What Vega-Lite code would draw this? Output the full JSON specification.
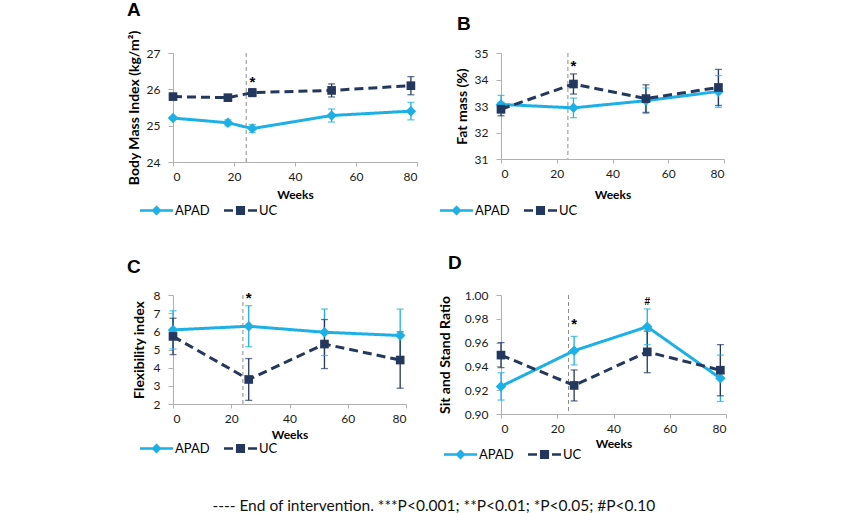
{
  "$schema": "https://vega.github.io/schema/vega-lite/v6.json",
  "autosize": "none",
  "padding": {"left": 173, "top": 53, "right": 677, "bottom": 460},
  "background": "white",
  "datasets": {
    "A": [
      {"week": 0, "group": "APAD", "value": 25.21, "lo": 25.17, "hi": 25.25},
      {"week": 18, "group": "APAD", "value": 25.08, "lo": 25.0, "hi": 25.16},
      {"week": 26, "group": "APAD", "value": 24.92, "lo": 24.81, "hi": 25.03},
      {"week": 52, "group": "APAD", "value": 25.28, "lo": 25.1, "hi": 25.46},
      {"week": 78, "group": "APAD", "value": 25.4, "lo": 25.16, "hi": 25.64},
      {"week": 0, "group": "UC", "value": 25.8, "lo": 25.76, "hi": 25.84},
      {"week": 18, "group": "UC", "value": 25.77, "lo": 25.69, "hi": 25.85},
      {"week": 26, "group": "UC", "value": 25.91, "lo": 25.8, "hi": 26.02},
      {"week": 52, "group": "UC", "value": 25.97, "lo": 25.79, "hi": 26.15},
      {"week": 78, "group": "UC", "value": 26.1, "lo": 25.85, "hi": 26.35}
    ],
    "A_ann": [{"week": 26, "y": 26.2, "label": "*"}],
    "B": [
      {"week": 0, "group": "APAD", "value": 33.06, "lo": 32.72, "hi": 33.4},
      {"week": 26, "group": "APAD", "value": 32.93, "lo": 32.56, "hi": 33.3},
      {"week": 52, "group": "APAD", "value": 33.2, "lo": 32.72, "hi": 33.68},
      {"week": 78, "group": "APAD", "value": 33.55, "lo": 32.95, "hi": 34.15},
      {"week": 0, "group": "UC", "value": 32.88, "lo": 32.63, "hi": 33.13},
      {"week": 26, "group": "UC", "value": 33.83, "lo": 33.45, "hi": 34.21},
      {"week": 52, "group": "UC", "value": 33.28, "lo": 32.76, "hi": 33.8},
      {"week": 78, "group": "UC", "value": 33.7, "lo": 33.02, "hi": 34.38}
    ],
    "B_ann": [{"week": 26, "y": 34.5, "label": "*"}],
    "C": [
      {"week": 0, "group": "APAD", "value": 6.08, "lo": 5.03, "hi": 7.13},
      {"week": 26, "group": "APAD", "value": 6.28, "lo": 5.15, "hi": 7.41},
      {"week": 52, "group": "APAD", "value": 5.95, "lo": 4.67, "hi": 7.23},
      {"week": 78, "group": "APAD", "value": 5.77, "lo": 4.32, "hi": 7.22},
      {"week": 0, "group": "UC", "value": 5.72, "lo": 4.72, "hi": 6.72},
      {"week": 26, "group": "UC", "value": 3.35, "lo": 2.2, "hi": 4.5},
      {"week": 52, "group": "UC", "value": 5.3, "lo": 3.95, "hi": 6.65},
      {"week": 78, "group": "UC", "value": 4.42, "lo": 2.87, "hi": 5.97}
    ],
    "C_ann": [{"week": 26, "y": 7.85, "label": "*"}],
    "D": [
      {"week": 0, "group": "APAD", "value": 0.9232, "lo": 0.9117, "hi": 0.9347},
      {"week": 26, "group": "APAD", "value": 0.9532, "lo": 0.9412, "hi": 0.9652},
      {"week": 52, "group": "APAD", "value": 0.9733, "lo": 0.9583, "hi": 0.9883},
      {"week": 78, "group": "APAD", "value": 0.93, "lo": 0.9105, "hi": 0.9495},
      {"week": 0, "group": "UC", "value": 0.9495, "lo": 0.939, "hi": 0.96},
      {"week": 26, "group": "UC", "value": 0.924, "lo": 0.911, "hi": 0.937},
      {"week": 52, "group": "UC", "value": 0.9522, "lo": 0.9347, "hi": 0.9697},
      {"week": 78, "group": "UC", "value": 0.9368, "lo": 0.9153, "hi": 0.9583}
    ],
    "D_ann": [{"week": 26, "y": 0.9757, "label": "*"}, {"week": 52, "y": 0.9944, "label": "#"}],
    "end": [{"end": 24}]
  },
  "title": {
    "text": "---- End of intervention. ***P<0.001; **P<0.01; *P<0.05; #P<0.10",
    "orient": "bottom",
    "anchor": "middle",
    "frame": "bounds",
    "offset": 36,
    "dx": 7,
    "font": "Lato",
    "fontSize": 15.5,
    "fontWeight": "normal",
    "color": "#111111"
  },
  "columns": 2,
  "align": "none",
  "bounds": "flush",
  "spacing": {"row": 133, "column": 84},
  "resolve": {
    "scale": {"x": "independent", "y": "independent", "color": "independent"},
    "legend": {"color": "independent"}
  },
  "concat": [
    {
      "width": 244, "height": 109,
      "title": {"text": "A", "anchor": "start", "frame": "group", "dx": -46, "offset": -5, "baseline": "alphabetic", "font": "Liberation Sans", "fontSize": 19, "fontWeight": "bold", "color": "#000000"},
      "data": {"name": "A"},
      "layer": [
        {"data": {"name": "end"}, "mark": {"type": "rule", "color": "#8c8c8c", "strokeDash": [4, 3], "strokeWidth": 1}, "encoding": {"x": {"field": "end", "type": "quantitative", "scale": {"domain": [0, 80], "nice": false}}}},
        {"mark": {"type": "rule", "strokeWidth": 1.3}, "encoding": {"x": {"field": "week", "type": "quantitative", "scale": {"domain": [0, 80], "nice": false}}, "y": {"field": "lo", "type": "quantitative", "scale": {"domain": [24, 27], "nice": false, "zero": false}}, "y2": {"field": "hi"}, "color": {"field": "group", "type": "nominal", "scale": {"domain": ["APAD", "UC"], "range": ["#1CB0E6", "#24375F"]}}}},
        {"mark": {"type": "tick", "orient": "horizontal", "size": 7, "thickness": 1.3}, "encoding": {"x": {"field": "week", "type": "quantitative", "scale": {"domain": [0, 80], "nice": false}}, "y": {"field": "lo", "type": "quantitative", "scale": {"domain": [24, 27], "nice": false, "zero": false}}, "color": {"field": "group", "type": "nominal", "scale": {"domain": ["APAD", "UC"], "range": ["#1CB0E6", "#24375F"]}}}},
        {"mark": {"type": "tick", "orient": "horizontal", "size": 7, "thickness": 1.3}, "encoding": {"x": {"field": "week", "type": "quantitative", "scale": {"domain": [0, 80], "nice": false}}, "y": {"field": "hi", "type": "quantitative", "scale": {"domain": [24, 27], "nice": false, "zero": false}}, "color": {"field": "group", "type": "nominal", "scale": {"domain": ["APAD", "UC"], "range": ["#1CB0E6", "#24375F"]}}}},
        {"mark": {"type": "line", "strokeWidth": 3}, "encoding": {
          "x": {"field": "week", "type": "quantitative", "scale": {"domain": [0, 80], "nice": false}, "axis": {"values": [0, 20, 40, 60, 80], "tickCount": 20, "format": "d", "title": "Weeks", "titlePadding": 7, "labelOverlap": false}},
          "y": {"field": "value", "type": "quantitative", "scale": {"domain": [24, 27], "nice": false, "zero": false}, "axis": {"values": [24, 25, 26, 27], "tickCount": 20, "format": "d", "title": "Body Mass Index (kg/m²)", "titlePadding": 5, "labelOverlap": false}},
          "color": {"field": "group", "type": "nominal", "scale": {"domain": ["APAD", "UC"], "range": ["#1CB0E6", "#24375F"]}, "legend": {"title": null, "orient": "none", "legendX": -33, "legendY": 151, "direction": "horizontal", "symbolSize": 25, "symbolOffset": 10, "labelOffset": 12, "columnPadding": 8, "labelFont": "Lato", "labelFontSize": 13, "labelColor": "#000000", "encode": {"symbols": {"update": {"shape": {"signal": "datum.value === 'APAD' ? 'M-6.6,0H6.6M0,-1.3L1.3,0L0,1.3L-1.3,0Z' : 'M-6.6,0H-3M3,0H6.6M-1.3,-1.3H1.3V1.3H-1.3Z'"}, "fill": {"signal": "datum.value === 'APAD' ? '#1CB0E6' : '#24375F'"}, "stroke": {"signal": "datum.value === 'APAD' ? '#1CB0E6' : '#24375F'"}, "strokeWidth": {"value": 2.6}, "size": {"value": 25}, "opacity": {"value": 1}, "fillOpacity": {"value": 1}, "strokeOpacity": {"value": 1}}}}}},
          "strokeDash": {"condition": {"test": "datum.group === 'UC'", "value": [9, 5]}, "value": [1, 0]}}},
        {"mark": {"type": "point", "filled": true, "opacity": 1}, "encoding": {"x": {"field": "week", "type": "quantitative", "scale": {"domain": [0, 80], "nice": false}}, "y": {"field": "value", "type": "quantitative", "scale": {"domain": [24, 27], "nice": false, "zero": false}}, "color": {"field": "group", "type": "nominal", "scale": {"domain": ["APAD", "UC"], "range": ["#1CB0E6", "#24375F"]}}, "shape": {"condition": {"test": "datum.group === 'UC'", "value": "square"}, "value": "diamond"}, "size": {"condition": {"test": "datum.group === 'UC'", "value": 75}, "value": 110}}},
        {"data": {"name": "A_ann"}, "mark": {"type": "text", "fontWeight": "bold", "baseline": "middle", "color": "#000000", "font": "Liberation Sans"}, "encoding": {"x": {"field": "week", "type": "quantitative", "scale": {"domain": [0, 80], "nice": false}}, "y": {"field": "y", "type": "quantitative", "scale": {"domain": [24, 27], "nice": false, "zero": false}}, "text": {"field": "label"}, "size": {"condition": {"test": "datum.label === '#'", "value": 10}, "value": 15}}}
      ]
    },
    {
      "width": 223, "height": 106,
      "title": {"text": "B", "anchor": "start", "frame": "group", "dx": -44, "offset": -2, "baseline": "alphabetic", "font": "Liberation Sans", "fontSize": 19, "fontWeight": "bold", "color": "#000000"},
      "data": {"name": "B"},
      "layer": [
        {"data": {"name": "end"}, "mark": {"type": "rule", "color": "#8c8c8c", "strokeDash": [4, 3], "strokeWidth": 1}, "encoding": {"x": {"field": "end", "type": "quantitative", "scale": {"domain": [0, 80], "nice": false}}}},
        {"mark": {"type": "rule", "strokeWidth": 1.3}, "encoding": {"x": {"field": "week", "type": "quantitative", "scale": {"domain": [0, 80], "nice": false}}, "y": {"field": "lo", "type": "quantitative", "scale": {"domain": [31, 35], "nice": false, "zero": false}}, "y2": {"field": "hi"}, "color": {"field": "group", "type": "nominal", "scale": {"domain": ["APAD", "UC"], "range": ["#1CB0E6", "#24375F"]}}}},
        {"mark": {"type": "tick", "orient": "horizontal", "size": 7, "thickness": 1.3}, "encoding": {"x": {"field": "week", "type": "quantitative", "scale": {"domain": [0, 80], "nice": false}}, "y": {"field": "lo", "type": "quantitative", "scale": {"domain": [31, 35], "nice": false, "zero": false}}, "color": {"field": "group", "type": "nominal", "scale": {"domain": ["APAD", "UC"], "range": ["#1CB0E6", "#24375F"]}}}},
        {"mark": {"type": "tick", "orient": "horizontal", "size": 7, "thickness": 1.3}, "encoding": {"x": {"field": "week", "type": "quantitative", "scale": {"domain": [0, 80], "nice": false}}, "y": {"field": "hi", "type": "quantitative", "scale": {"domain": [31, 35], "nice": false, "zero": false}}, "color": {"field": "group", "type": "nominal", "scale": {"domain": ["APAD", "UC"], "range": ["#1CB0E6", "#24375F"]}}}},
        {"mark": {"type": "line", "strokeWidth": 3}, "encoding": {
          "x": {"field": "week", "type": "quantitative", "scale": {"domain": [0, 80], "nice": false}, "axis": {"values": [0, 20, 40, 60, 80], "tickCount": 20, "format": "d", "title": "Weeks", "titlePadding": 10, "labelOverlap": false}},
          "y": {"field": "value", "type": "quantitative", "scale": {"domain": [31, 35], "nice": false, "zero": false}, "axis": {"values": [31, 32, 33, 34, 35], "tickCount": 20, "format": "d", "title": "Fat mass (%)", "titlePadding": 5, "labelOverlap": false}},
          "color": {"field": "group", "type": "nominal", "scale": {"domain": ["APAD", "UC"], "range": ["#1CB0E6", "#24375F"]}, "legend": {"title": null, "orient": "none", "legendX": -61, "legendY": 151, "direction": "horizontal", "symbolSize": 25, "symbolOffset": 10, "labelOffset": 12, "columnPadding": 8, "labelFont": "Lato", "labelFontSize": 13, "labelColor": "#000000", "encode": {"symbols": {"update": {"shape": {"signal": "datum.value === 'APAD' ? 'M-6.6,0H6.6M0,-1.3L1.3,0L0,1.3L-1.3,0Z' : 'M-6.6,0H-3M3,0H6.6M-1.3,-1.3H1.3V1.3H-1.3Z'"}, "fill": {"signal": "datum.value === 'APAD' ? '#1CB0E6' : '#24375F'"}, "stroke": {"signal": "datum.value === 'APAD' ? '#1CB0E6' : '#24375F'"}, "strokeWidth": {"value": 2.6}, "size": {"value": 25}, "opacity": {"value": 1}, "fillOpacity": {"value": 1}, "strokeOpacity": {"value": 1}}}}}},
          "strokeDash": {"condition": {"test": "datum.group === 'UC'", "value": [9, 5]}, "value": [1, 0]}}},
        {"mark": {"type": "point", "filled": true, "opacity": 1}, "encoding": {"x": {"field": "week", "type": "quantitative", "scale": {"domain": [0, 80], "nice": false}}, "y": {"field": "value", "type": "quantitative", "scale": {"domain": [31, 35], "nice": false, "zero": false}}, "color": {"field": "group", "type": "nominal", "scale": {"domain": ["APAD", "UC"], "range": ["#1CB0E6", "#24375F"]}}, "shape": {"condition": {"test": "datum.group === 'UC'", "value": "square"}, "value": "diamond"}, "size": {"condition": {"test": "datum.group === 'UC'", "value": 75}, "value": 110}}},
        {"data": {"name": "B_ann"}, "mark": {"type": "text", "fontWeight": "bold", "baseline": "middle", "color": "#000000", "font": "Liberation Sans"}, "encoding": {"x": {"field": "week", "type": "quantitative", "scale": {"domain": [0, 80], "nice": false}}, "y": {"field": "y", "type": "quantitative", "scale": {"domain": [31, 35], "nice": false, "zero": false}}, "text": {"field": "label"}, "size": {"condition": {"test": "datum.label === '#'", "value": 10}, "value": 15}}}
      ]
    },
    {
      "width": 233, "height": 109,
      "title": {"text": "C", "anchor": "start", "frame": "group", "dx": -46, "offset": -3, "baseline": "alphabetic", "font": "Liberation Sans", "fontSize": 19, "fontWeight": "bold", "color": "#000000"},
      "data": {"name": "C"},
      "layer": [
        {"data": {"name": "end"}, "mark": {"type": "rule", "color": "#8c8c8c", "strokeDash": [4, 3], "strokeWidth": 1}, "encoding": {"x": {"field": "end", "type": "quantitative", "scale": {"domain": [0, 80], "nice": false}}}},
        {"mark": {"type": "rule", "strokeWidth": 1.3}, "encoding": {"x": {"field": "week", "type": "quantitative", "scale": {"domain": [0, 80], "nice": false}}, "y": {"field": "lo", "type": "quantitative", "scale": {"domain": [2, 8], "nice": false, "zero": false}}, "y2": {"field": "hi"}, "color": {"field": "group", "type": "nominal", "scale": {"domain": ["APAD", "UC"], "range": ["#1CB0E6", "#24375F"]}}}},
        {"mark": {"type": "tick", "orient": "horizontal", "size": 7, "thickness": 1.3}, "encoding": {"x": {"field": "week", "type": "quantitative", "scale": {"domain": [0, 80], "nice": false}}, "y": {"field": "lo", "type": "quantitative", "scale": {"domain": [2, 8], "nice": false, "zero": false}}, "color": {"field": "group", "type": "nominal", "scale": {"domain": ["APAD", "UC"], "range": ["#1CB0E6", "#24375F"]}}}},
        {"mark": {"type": "tick", "orient": "horizontal", "size": 7, "thickness": 1.3}, "encoding": {"x": {"field": "week", "type": "quantitative", "scale": {"domain": [0, 80], "nice": false}}, "y": {"field": "hi", "type": "quantitative", "scale": {"domain": [2, 8], "nice": false, "zero": false}}, "color": {"field": "group", "type": "nominal", "scale": {"domain": ["APAD", "UC"], "range": ["#1CB0E6", "#24375F"]}}}},
        {"mark": {"type": "line", "strokeWidth": 3}, "encoding": {
          "x": {"field": "week", "type": "quantitative", "scale": {"domain": [0, 80], "nice": false}, "axis": {"values": [0, 20, 40, 60, 80], "tickCount": 20, "format": "d", "title": "Weeks", "titlePadding": 5, "labelOverlap": false}},
          "y": {"field": "value", "type": "quantitative", "scale": {"domain": [2, 8], "nice": false, "zero": false}, "axis": {"values": [2, 3, 4, 5, 6, 7, 8], "tickCount": 20, "format": "d", "title": "Flexibility index", "titlePadding": 7, "labelOverlap": false}},
          "color": {"field": "group", "type": "nominal", "scale": {"domain": ["APAD", "UC"], "range": ["#1CB0E6", "#24375F"]}, "legend": {"title": null, "orient": "none", "legendX": -33, "legendY": 147, "direction": "horizontal", "symbolSize": 25, "symbolOffset": 10, "labelOffset": 12, "columnPadding": 8, "labelFont": "Lato", "labelFontSize": 13, "labelColor": "#000000", "encode": {"symbols": {"update": {"shape": {"signal": "datum.value === 'APAD' ? 'M-6.6,0H6.6M0,-1.3L1.3,0L0,1.3L-1.3,0Z' : 'M-6.6,0H-3M3,0H6.6M-1.3,-1.3H1.3V1.3H-1.3Z'"}, "fill": {"signal": "datum.value === 'APAD' ? '#1CB0E6' : '#24375F'"}, "stroke": {"signal": "datum.value === 'APAD' ? '#1CB0E6' : '#24375F'"}, "strokeWidth": {"value": 2.6}, "size": {"value": 25}, "opacity": {"value": 1}, "fillOpacity": {"value": 1}, "strokeOpacity": {"value": 1}}}}}},
          "strokeDash": {"condition": {"test": "datum.group === 'UC'", "value": [9, 5]}, "value": [1, 0]}}},
        {"mark": {"type": "point", "filled": true, "opacity": 1}, "encoding": {"x": {"field": "week", "type": "quantitative", "scale": {"domain": [0, 80], "nice": false}}, "y": {"field": "value", "type": "quantitative", "scale": {"domain": [2, 8], "nice": false, "zero": false}}, "color": {"field": "group", "type": "nominal", "scale": {"domain": ["APAD", "UC"], "range": ["#1CB0E6", "#24375F"]}}, "shape": {"condition": {"test": "datum.group === 'UC'", "value": "square"}, "value": "diamond"}, "size": {"condition": {"test": "datum.group === 'UC'", "value": 75}, "value": 110}}},
        {"data": {"name": "C_ann"}, "mark": {"type": "text", "fontWeight": "bold", "baseline": "middle", "color": "#000000", "font": "Liberation Sans"}, "encoding": {"x": {"field": "week", "type": "quantitative", "scale": {"domain": [0, 80], "nice": false}}, "y": {"field": "y", "type": "quantitative", "scale": {"domain": [2, 8], "nice": false, "zero": false}}, "text": {"field": "label"}, "size": {"condition": {"test": "datum.label === '#'", "value": 10}, "value": 15}}}
      ]
    },
    {
      "width": 225, "height": 119,
      "title": {"text": "D", "anchor": "start", "frame": "group", "dx": -53, "offset": 1, "baseline": "alphabetic", "font": "Liberation Sans", "fontSize": 19, "fontWeight": "bold", "color": "#000000"},
      "data": {"name": "D"},
      "layer": [
        {"data": {"name": "end"}, "mark": {"type": "rule", "color": "#8c8c8c", "strokeDash": [4, 3], "strokeWidth": 1}, "encoding": {"x": {"field": "end", "type": "quantitative", "scale": {"domain": [0, 80], "nice": false}}}},
        {"mark": {"type": "rule", "strokeWidth": 1.3}, "encoding": {"x": {"field": "week", "type": "quantitative", "scale": {"domain": [0, 80], "nice": false}}, "y": {"field": "lo", "type": "quantitative", "scale": {"domain": [0.9, 1.0], "nice": false, "zero": false}}, "y2": {"field": "hi"}, "color": {"field": "group", "type": "nominal", "scale": {"domain": ["APAD", "UC"], "range": ["#1CB0E6", "#24375F"]}}}},
        {"mark": {"type": "tick", "orient": "horizontal", "size": 7, "thickness": 1.3}, "encoding": {"x": {"field": "week", "type": "quantitative", "scale": {"domain": [0, 80], "nice": false}}, "y": {"field": "lo", "type": "quantitative", "scale": {"domain": [0.9, 1.0], "nice": false, "zero": false}}, "color": {"field": "group", "type": "nominal", "scale": {"domain": ["APAD", "UC"], "range": ["#1CB0E6", "#24375F"]}}}},
        {"mark": {"type": "tick", "orient": "horizontal", "size": 7, "thickness": 1.3}, "encoding": {"x": {"field": "week", "type": "quantitative", "scale": {"domain": [0, 80], "nice": false}}, "y": {"field": "hi", "type": "quantitative", "scale": {"domain": [0.9, 1.0], "nice": false, "zero": false}}, "color": {"field": "group", "type": "nominal", "scale": {"domain": ["APAD", "UC"], "range": ["#1CB0E6", "#24375F"]}}}},
        {"mark": {"type": "line", "strokeWidth": 3}, "encoding": {
          "x": {"field": "week", "type": "quantitative", "scale": {"domain": [0, 80], "nice": false}, "axis": {"values": [0, 20, 40, 60, 80], "tickCount": 20, "format": "d", "title": "Weeks", "titlePadding": 4, "labelOverlap": false}},
          "y": {"field": "value", "type": "quantitative", "scale": {"domain": [0.9, 1.0], "nice": false, "zero": false}, "axis": {"values": [0.9, 0.92, 0.94, 0.96, 0.98, 1.0], "tickCount": 20, "format": ".2f", "title": "Sit and Stand Ratio", "titlePadding": 12, "labelOverlap": false}},
          "color": {"field": "group", "type": "nominal", "scale": {"domain": ["APAD", "UC"], "range": ["#1CB0E6", "#24375F"]}, "legend": {"title": null, "orient": "none", "legendX": -57, "legendY": 153, "direction": "horizontal", "symbolSize": 25, "symbolOffset": 10, "labelOffset": 12, "columnPadding": 8, "labelFont": "Lato", "labelFontSize": 13, "labelColor": "#000000", "encode": {"symbols": {"update": {"shape": {"signal": "datum.value === 'APAD' ? 'M-6.6,0H6.6M0,-1.3L1.3,0L0,1.3L-1.3,0Z' : 'M-6.6,0H-3M3,0H6.6M-1.3,-1.3H1.3V1.3H-1.3Z'"}, "fill": {"signal": "datum.value === 'APAD' ? '#1CB0E6' : '#24375F'"}, "stroke": {"signal": "datum.value === 'APAD' ? '#1CB0E6' : '#24375F'"}, "strokeWidth": {"value": 2.6}, "size": {"value": 25}, "opacity": {"value": 1}, "fillOpacity": {"value": 1}, "strokeOpacity": {"value": 1}}}}}},
          "strokeDash": {"condition": {"test": "datum.group === 'UC'", "value": [9, 5]}, "value": [1, 0]}}},
        {"mark": {"type": "point", "filled": true, "opacity": 1}, "encoding": {"x": {"field": "week", "type": "quantitative", "scale": {"domain": [0, 80], "nice": false}}, "y": {"field": "value", "type": "quantitative", "scale": {"domain": [0.9, 1.0], "nice": false, "zero": false}}, "color": {"field": "group", "type": "nominal", "scale": {"domain": ["APAD", "UC"], "range": ["#1CB0E6", "#24375F"]}}, "shape": {"condition": {"test": "datum.group === 'UC'", "value": "square"}, "value": "diamond"}, "size": {"condition": {"test": "datum.group === 'UC'", "value": 75}, "value": 110}}},
        {"data": {"name": "D_ann"}, "mark": {"type": "text", "fontWeight": "bold", "baseline": "middle", "color": "#000000", "font": "Liberation Sans"}, "encoding": {"x": {"field": "week", "type": "quantitative", "scale": {"domain": [0, 80], "nice": false}}, "y": {"field": "y", "type": "quantitative", "scale": {"domain": [0.9, 1.0], "nice": false, "zero": false}}, "text": {"field": "label"}, "size": {"condition": {"test": "datum.label === '#'", "value": 10}, "value": 15}}}
      ]
    }
  ],
  "config": {
    "view": {"stroke": null},
    "axis": {
      "grid": false,
      "domainColor": "#b0b0b0",
      "tickColor": "#b0b0b0",
      "labelOverlap": false,
      "labelFont": "Lato",
      "labelFontSize": 12,
      "labelColor": "#1a1a1a",
      "titleFont": "Lato",
      "titleFontSize": 12,
      "titleFontWeight": "bold",
      "titleColor": "#000000"
    },
    "axisX": {"tickSize": 4, "labelPadding": 5},
    "axisY": {"titleFontSize": 14, "tickSize": 5, "labelPadding": 8}
  }
}
